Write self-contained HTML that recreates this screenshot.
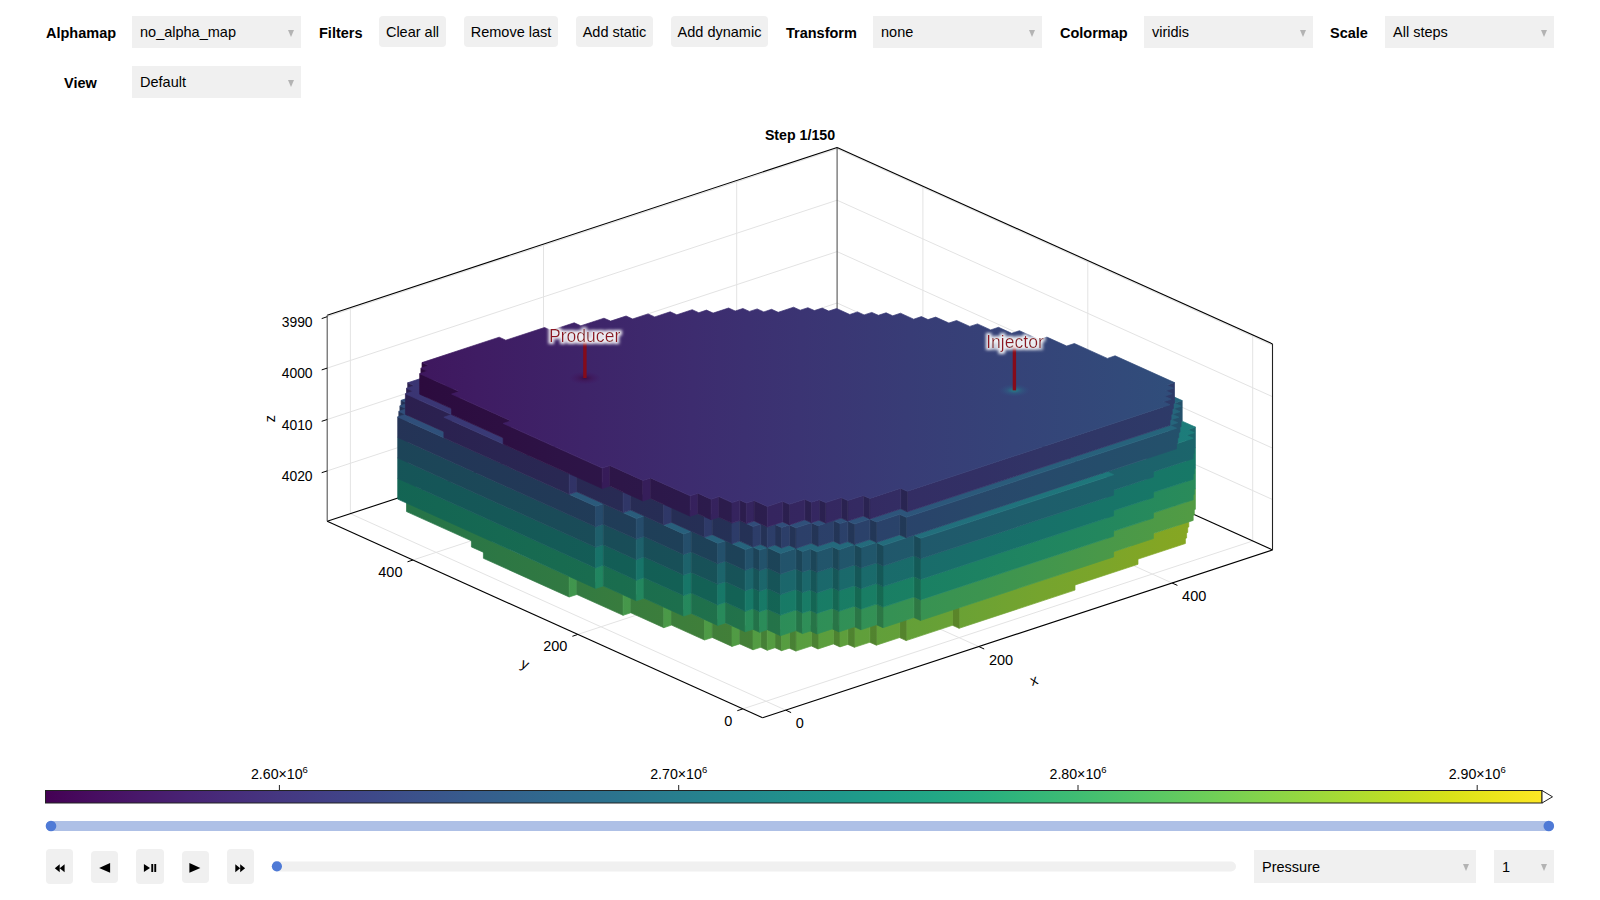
<!DOCTYPE html>
<html><head><meta charset="utf-8">
<style>
html,body{margin:0;padding:0;background:#fff;}
body{width:1600px;height:900px;position:relative;overflow:hidden;font-family:"Liberation Sans",sans-serif;color:#000;}
.lbl{position:absolute;font-weight:bold;font-size:14.5px;line-height:1;white-space:nowrap;}
.dd{position:absolute;background:#f0f0f0;height:32px;}
.dd span{position:absolute;left:8px;top:9px;font-size:14.5px;line-height:1;white-space:nowrap;}
.dd i{position:absolute;right:7px;top:13.6px;width:0;height:0;border-left:3.5px solid transparent;border-right:3.5px solid transparent;border-top:7.5px solid #b3b3b3;}
.btn{position:absolute;background:#f0f0f0;border-radius:4px;height:31px;top:16px;}
.btn span{position:absolute;left:0;right:0;text-align:center;top:9px;font-size:14.5px;line-height:1;white-space:nowrap;}
.pb{position:absolute;background:#f0f0f0;border-radius:4px;}
svg text{font-family:"Liberation Sans",sans-serif;}
</style></head><body>
<!-- row 1 -->
<div class="lbl" style="left:46px;top:26px">Alphamap</div>
<div class="dd" style="left:132px;top:16px;width:169px"><span>no_alpha_map</span><i></i></div>
<div class="lbl" style="left:319px;top:26px">Filters</div>
<div class="btn" style="left:379px;width:67px"><span>Clear all</span></div>
<div class="btn" style="left:464px;width:94px"><span>Remove last</span></div>
<div class="btn" style="left:576px;width:77px"><span>Add static</span></div>
<div class="btn" style="left:671px;width:97px"><span>Add dynamic</span></div>
<div class="lbl" style="left:786px;top:26px">Transform</div>
<div class="dd" style="left:873px;top:16px;width:169px"><span>none</span><i></i></div>
<div class="lbl" style="left:1060px;top:26px">Colormap</div>
<div class="dd" style="left:1144px;top:16px;width:169px"><span>viridis</span><i></i></div>
<div class="lbl" style="left:1330px;top:26px">Scale</div>
<div class="dd" style="left:1385px;top:16px;width:169px"><span>All steps</span><i></i></div>
<!-- row 2 -->
<div class="lbl" style="left:64px;top:76px">View</div>
<div class="dd" style="left:132px;top:66px;width:169px"><span>Default</span><i></i></div>

<svg width="1600" height="900" style="position:absolute;left:0;top:0">
<defs><linearGradient id="sx6" gradientUnits="userSpaceOnUse" x1="380" y1="0" x2="1220" y2="0"><stop offset="0%" stop-color="#23734a"/><stop offset="7.1%" stop-color="#287547"/><stop offset="14.3%" stop-color="#2d7744"/><stop offset="21.4%" stop-color="#317942"/><stop offset="28.6%" stop-color="#387c3e"/><stop offset="35.7%" stop-color="#3d7e3b"/><stop offset="42.9%" stop-color="#437f38"/><stop offset="50%" stop-color="#498134"/><stop offset="57.1%" stop-color="#50832f"/><stop offset="64.3%" stop-color="#56842c"/><stop offset="71.4%" stop-color="#5d8628"/><stop offset="78.6%" stop-color="#638723"/><stop offset="85.7%" stop-color="#6b891e"/><stop offset="92.9%" stop-color="#728a1a"/><stop offset="100%" stop-color="#798b16"/></linearGradient><linearGradient id="sy6" gradientUnits="userSpaceOnUse" x1="380" y1="0" x2="1220" y2="0"><stop offset="0%" stop-color="#2f8e57"/><stop offset="7.1%" stop-color="#359154"/><stop offset="14.3%" stop-color="#3b9351"/><stop offset="21.4%" stop-color="#3f954e"/><stop offset="28.6%" stop-color="#45974b"/><stop offset="35.7%" stop-color="#4c9a47"/><stop offset="42.9%" stop-color="#519b44"/><stop offset="50%" stop-color="#589d3f"/><stop offset="57.1%" stop-color="#609f3b"/><stop offset="64.3%" stop-color="#65a037"/><stop offset="71.4%" stop-color="#6da233"/><stop offset="78.6%" stop-color="#75a42e"/><stop offset="85.7%" stop-color="#7ba52a"/><stop offset="92.9%" stop-color="#83a624"/><stop offset="100%" stop-color="#89a721"/></linearGradient><linearGradient id="sx5" gradientUnits="userSpaceOnUse" x1="380" y1="0" x2="1220" y2="0"><stop offset="0%" stop-color="#136454"/><stop offset="7.1%" stop-color="#146653"/><stop offset="14.3%" stop-color="#166952"/><stop offset="21.4%" stop-color="#186b50"/><stop offset="28.6%" stop-color="#1a6d4e"/><stop offset="35.7%" stop-color="#1d6f4d"/><stop offset="42.9%" stop-color="#22724a"/><stop offset="50%" stop-color="#267448"/><stop offset="57.1%" stop-color="#2a7646"/><stop offset="64.3%" stop-color="#2f7843"/><stop offset="71.4%" stop-color="#357b40"/><stop offset="78.6%" stop-color="#3a7d3d"/><stop offset="85.7%" stop-color="#407f39"/><stop offset="92.9%" stop-color="#468036"/><stop offset="100%" stop-color="#4d8231"/></linearGradient><linearGradient id="sy5" gradientUnits="userSpaceOnUse" x1="380" y1="0" x2="1220" y2="0"><stop offset="0%" stop-color="#187c65"/><stop offset="7.1%" stop-color="#1a7f64"/><stop offset="14.3%" stop-color="#1c8162"/><stop offset="21.4%" stop-color="#1e8461"/><stop offset="28.6%" stop-color="#22865f"/><stop offset="35.7%" stop-color="#25885d"/><stop offset="42.9%" stop-color="#298b5a"/><stop offset="50%" stop-color="#2e8e58"/><stop offset="57.1%" stop-color="#329056"/><stop offset="64.3%" stop-color="#389252"/><stop offset="71.4%" stop-color="#3c9450"/><stop offset="78.6%" stop-color="#42964d"/><stop offset="85.7%" stop-color="#499849"/><stop offset="92.9%" stop-color="#4e9a46"/><stop offset="100%" stop-color="#559c42"/></linearGradient><linearGradient id="sx4" gradientUnits="userSpaceOnUse" x1="380" y1="0" x2="1220" y2="0"><stop offset="0%" stop-color="#165458"/><stop offset="7.1%" stop-color="#155658"/><stop offset="14.3%" stop-color="#155857"/><stop offset="21.4%" stop-color="#145b57"/><stop offset="28.6%" stop-color="#135e56"/><stop offset="35.7%" stop-color="#136055"/><stop offset="42.9%" stop-color="#136255"/><stop offset="50%" stop-color="#146554"/><stop offset="57.1%" stop-color="#156852"/><stop offset="64.3%" stop-color="#176a51"/><stop offset="71.4%" stop-color="#196c4f"/><stop offset="78.6%" stop-color="#1d6f4d"/><stop offset="85.7%" stop-color="#20714b"/><stop offset="92.9%" stop-color="#247349"/><stop offset="100%" stop-color="#287547"/></linearGradient><linearGradient id="sy4" gradientUnits="userSpaceOnUse" x1="380" y1="0" x2="1220" y2="0"><stop offset="0%" stop-color="#1a696b"/><stop offset="7.1%" stop-color="#196b6a"/><stop offset="14.3%" stop-color="#186e6a"/><stop offset="21.4%" stop-color="#187169"/><stop offset="28.6%" stop-color="#177369"/><stop offset="35.7%" stop-color="#177668"/><stop offset="42.9%" stop-color="#177867"/><stop offset="50%" stop-color="#187b66"/><stop offset="57.1%" stop-color="#197d64"/><stop offset="64.3%" stop-color="#1a8063"/><stop offset="71.4%" stop-color="#1d8262"/><stop offset="78.6%" stop-color="#208560"/><stop offset="85.7%" stop-color="#23875e"/><stop offset="92.9%" stop-color="#278a5c"/><stop offset="100%" stop-color="#2c8c59"/></linearGradient><linearGradient id="sx3" gradientUnits="userSpaceOnUse" x1="380" y1="0" x2="1220" y2="0"><stop offset="0%" stop-color="#1d4358"/><stop offset="7.1%" stop-color="#1c4658"/><stop offset="14.3%" stop-color="#1b4958"/><stop offset="21.4%" stop-color="#1a4b58"/><stop offset="28.6%" stop-color="#194d58"/><stop offset="35.7%" stop-color="#185058"/><stop offset="42.9%" stop-color="#175358"/><stop offset="50%" stop-color="#165558"/><stop offset="57.1%" stop-color="#155757"/><stop offset="64.3%" stop-color="#145a57"/><stop offset="71.4%" stop-color="#135d56"/><stop offset="78.6%" stop-color="#135f56"/><stop offset="85.7%" stop-color="#136155"/><stop offset="92.9%" stop-color="#136454"/><stop offset="100%" stop-color="#146653"/></linearGradient><linearGradient id="sy3" gradientUnits="userSpaceOnUse" x1="380" y1="0" x2="1220" y2="0"><stop offset="0%" stop-color="#22556b"/><stop offset="7.1%" stop-color="#21586b"/><stop offset="14.3%" stop-color="#205a6b"/><stop offset="21.4%" stop-color="#1f5d6b"/><stop offset="28.6%" stop-color="#1e606b"/><stop offset="35.7%" stop-color="#1d626b"/><stop offset="42.9%" stop-color="#1c656b"/><stop offset="50%" stop-color="#1b676b"/><stop offset="57.1%" stop-color="#1a6a6b"/><stop offset="64.3%" stop-color="#196c6a"/><stop offset="71.4%" stop-color="#186f6a"/><stop offset="78.6%" stop-color="#177169"/><stop offset="85.7%" stop-color="#177468"/><stop offset="92.9%" stop-color="#177767"/><stop offset="100%" stop-color="#177966"/></linearGradient><linearGradient id="sx2" gradientUnits="userSpaceOnUse" x1="380" y1="0" x2="1220" y2="0"><stop offset="0%" stop-color="#253256"/><stop offset="7.1%" stop-color="#233557"/><stop offset="14.3%" stop-color="#223857"/><stop offset="21.4%" stop-color="#213a57"/><stop offset="28.6%" stop-color="#203d58"/><stop offset="35.7%" stop-color="#1e4058"/><stop offset="42.9%" stop-color="#1d4258"/><stop offset="50%" stop-color="#1c4558"/><stop offset="57.1%" stop-color="#1b4858"/><stop offset="64.3%" stop-color="#1a4a58"/><stop offset="71.4%" stop-color="#194c58"/><stop offset="78.6%" stop-color="#184f58"/><stop offset="85.7%" stop-color="#175158"/><stop offset="92.9%" stop-color="#165458"/><stop offset="100%" stop-color="#155658"/></linearGradient><linearGradient id="sy2" gradientUnits="userSpaceOnUse" x1="380" y1="0" x2="1220" y2="0"><stop offset="0%" stop-color="#2b406a"/><stop offset="7.1%" stop-color="#2a436a"/><stop offset="14.3%" stop-color="#29466a"/><stop offset="21.4%" stop-color="#27496b"/><stop offset="28.6%" stop-color="#264b6b"/><stop offset="35.7%" stop-color="#254e6b"/><stop offset="42.9%" stop-color="#23516b"/><stop offset="50%" stop-color="#22546b"/><stop offset="57.1%" stop-color="#21566b"/><stop offset="64.3%" stop-color="#20596b"/><stop offset="71.4%" stop-color="#1f5b6b"/><stop offset="78.6%" stop-color="#1e5e6b"/><stop offset="85.7%" stop-color="#1d606b"/><stop offset="92.9%" stop-color="#1c636b"/><stop offset="100%" stop-color="#1b666b"/></linearGradient><linearGradient id="tg2" gradientUnits="userSpaceOnUse" x1="370.2" y1="410.5" x2="1229.5" y2="436.5"><stop offset="0%" stop-color="#314c7a"/><stop offset="12.5%" stop-color="#2d537b"/><stop offset="25%" stop-color="#2b597b"/><stop offset="37.5%" stop-color="#28607c"/><stop offset="50%" stop-color="#25667c"/><stop offset="62.5%" stop-color="#236d7c"/><stop offset="75%" stop-color="#20727c"/><stop offset="87.5%" stop-color="#1e797b"/><stop offset="100%" stop-color="#1c7f7a"/></linearGradient><linearGradient id="sx1" gradientUnits="userSpaceOnUse" x1="380" y1="0" x2="1220" y2="0"><stop offset="0%" stop-color="#2c1e4e"/><stop offset="7.1%" stop-color="#2b2150"/><stop offset="14.3%" stop-color="#2a2552"/><stop offset="21.4%" stop-color="#292853"/><stop offset="28.6%" stop-color="#282b54"/><stop offset="35.7%" stop-color="#262e55"/><stop offset="42.9%" stop-color="#253156"/><stop offset="50%" stop-color="#243456"/><stop offset="57.1%" stop-color="#233657"/><stop offset="64.3%" stop-color="#213a57"/><stop offset="71.4%" stop-color="#203c58"/><stop offset="78.6%" stop-color="#1f3f58"/><stop offset="85.7%" stop-color="#1e4158"/><stop offset="92.9%" stop-color="#1d4458"/><stop offset="100%" stop-color="#1c4658"/></linearGradient><linearGradient id="sy1" gradientUnits="userSpaceOnUse" x1="380" y1="0" x2="1220" y2="0"><stop offset="0%" stop-color="#342861"/><stop offset="7.1%" stop-color="#332c63"/><stop offset="14.3%" stop-color="#323065"/><stop offset="21.4%" stop-color="#313266"/><stop offset="28.6%" stop-color="#303667"/><stop offset="35.7%" stop-color="#2f3868"/><stop offset="42.9%" stop-color="#2d3c69"/><stop offset="50%" stop-color="#2c3f69"/><stop offset="57.1%" stop-color="#2b416a"/><stop offset="64.3%" stop-color="#29446a"/><stop offset="71.4%" stop-color="#28486a"/><stop offset="78.6%" stop-color="#274a6b"/><stop offset="85.7%" stop-color="#254d6b"/><stop offset="92.9%" stop-color="#24506b"/><stop offset="100%" stop-color="#23526b"/></linearGradient><linearGradient id="tg1" gradientUnits="userSpaceOnUse" x1="370.2" y1="390" x2="1229.5" y2="416"><stop offset="0%" stop-color="#3b3272"/><stop offset="12.5%" stop-color="#393975"/><stop offset="25%" stop-color="#364177"/><stop offset="37.5%" stop-color="#334879"/><stop offset="50%" stop-color="#304f7a"/><stop offset="62.5%" stop-color="#2d557b"/><stop offset="75%" stop-color="#2a5c7b"/><stop offset="87.5%" stop-color="#27627c"/><stop offset="100%" stop-color="#24697c"/></linearGradient><linearGradient id="sx0" gradientUnits="userSpaceOnUse" x1="380" y1="0" x2="1220" y2="0"><stop offset="0%" stop-color="#2c083b"/><stop offset="7.1%" stop-color="#2c0c3f"/><stop offset="14.3%" stop-color="#2d0f42"/><stop offset="21.4%" stop-color="#2d1346"/><stop offset="28.6%" stop-color="#2d1648"/><stop offset="35.7%" stop-color="#2c194b"/><stop offset="42.9%" stop-color="#2c1d4d"/><stop offset="50%" stop-color="#2b204f"/><stop offset="57.1%" stop-color="#2a2351"/><stop offset="64.3%" stop-color="#292652"/><stop offset="71.4%" stop-color="#282954"/><stop offset="78.6%" stop-color="#272d55"/><stop offset="85.7%" stop-color="#263056"/><stop offset="92.9%" stop-color="#253256"/><stop offset="100%" stop-color="#233657"/></linearGradient><linearGradient id="sy0" gradientUnits="userSpaceOnUse" x1="380" y1="0" x2="1220" y2="0"><stop offset="0%" stop-color="#360e4c"/><stop offset="7.1%" stop-color="#36114f"/><stop offset="14.3%" stop-color="#371553"/><stop offset="21.4%" stop-color="#361956"/><stop offset="28.6%" stop-color="#361c59"/><stop offset="35.7%" stop-color="#36205c"/><stop offset="42.9%" stop-color="#35245e"/><stop offset="50%" stop-color="#352660"/><stop offset="57.1%" stop-color="#342a62"/><stop offset="64.3%" stop-color="#332e64"/><stop offset="71.4%" stop-color="#323065"/><stop offset="78.6%" stop-color="#313466"/><stop offset="85.7%" stop-color="#2f3767"/><stop offset="92.9%" stop-color="#2e3a68"/><stop offset="100%" stop-color="#2d3d69"/></linearGradient><linearGradient id="tg0" gradientUnits="userSpaceOnUse" x1="370.2" y1="369.4" x2="1229.5" y2="395.4"><stop offset="0%" stop-color="#3e135a"/><stop offset="12.5%" stop-color="#3f1c63"/><stop offset="25%" stop-color="#3e2469"/><stop offset="37.5%" stop-color="#3d2c6f"/><stop offset="50%" stop-color="#3b3473"/><stop offset="62.5%" stop-color="#383c76"/><stop offset="75%" stop-color="#354378"/><stop offset="87.5%" stop-color="#324a7a"/><stop offset="100%" stop-color="#2e527b"/></linearGradient><filter id="glow" x="-30%" y="-60%" width="160%" height="220%"><feMorphology in="SourceAlpha" operator="dilate" radius="1.6" result="d"/><feGaussianBlur in="d" stdDeviation="1.6" result="b"/><feFlood flood-color="#ffffff" flood-opacity="0.92"/><feComposite in2="b" operator="in" result="g"/><feMerge><feMergeNode in="g"/><feMergeNode in="SourceGraphic"/></feMerge></filter><radialGradient id="spotP"><stop offset="0%" stop-color="#3a0a3e" stop-opacity="0.9"/><stop offset="45%" stop-color="#401050" stop-opacity="0.45"/><stop offset="100%" stop-color="#441060" stop-opacity="0"/></radialGradient><radialGradient id="spotI"><stop offset="0%" stop-color="#1f8a8a" stop-opacity="0.9"/><stop offset="45%" stop-color="#2a6f88" stop-opacity="0.4"/><stop offset="100%" stop-color="#30508a" stop-opacity="0"/></radialGradient></defs>
<line x1="350.4" y1="513.7" x2="350.4" y2="307.7" stroke="#e3e3e3" stroke-width="1"/>
<line x1="785.8" y1="710.2" x2="350.4" y2="513.7" stroke="#e3e3e3" stroke-width="1"/>
<line x1="543.5" y1="450.1" x2="543.5" y2="244.1" stroke="#e3e3e3" stroke-width="1"/>
<line x1="978.9" y1="646.6" x2="543.5" y2="450.1" stroke="#e3e3e3" stroke-width="1"/>
<line x1="736.7" y1="386.5" x2="736.7" y2="180.5" stroke="#e3e3e3" stroke-width="1"/>
<line x1="1172.1" y1="583" x2="736.7" y2="386.5" stroke="#e3e3e3" stroke-width="1"/>
<line x1="1252.7" y1="541" x2="1252.7" y2="335" stroke="#e3e3e3" stroke-width="1"/>
<line x1="742.8" y1="708.9" x2="1252.7" y2="541" stroke="#e3e3e3" stroke-width="1"/>
<line x1="1087.8" y1="466.5" x2="1087.8" y2="260.5" stroke="#e3e3e3" stroke-width="1"/>
<line x1="577.9" y1="634.4" x2="1087.8" y2="466.5" stroke="#e3e3e3" stroke-width="1"/>
<line x1="922.9" y1="392.1" x2="922.9" y2="186.1" stroke="#e3e3e3" stroke-width="1"/>
<line x1="413" y1="560" x2="922.9" y2="392.1" stroke="#e3e3e3" stroke-width="1"/>
<line x1="327.2" y1="316.7" x2="837.1" y2="148.8" stroke="#e3e3e3" stroke-width="1"/>
<line x1="1272.5" y1="345.3" x2="837.1" y2="148.8" stroke="#e3e3e3" stroke-width="1"/>
<line x1="327.2" y1="368.1" x2="837.1" y2="200.2" stroke="#e3e3e3" stroke-width="1"/>
<line x1="1272.5" y1="396.7" x2="837.1" y2="200.2" stroke="#e3e3e3" stroke-width="1"/>
<line x1="327.2" y1="419.5" x2="837.1" y2="251.6" stroke="#e3e3e3" stroke-width="1"/>
<line x1="1272.5" y1="448.1" x2="837.1" y2="251.6" stroke="#e3e3e3" stroke-width="1"/>
<line x1="327.2" y1="470.9" x2="837.1" y2="303" stroke="#e3e3e3" stroke-width="1"/>
<line x1="1272.5" y1="499.5" x2="837.1" y2="303" stroke="#e3e3e3" stroke-width="1"/>
<line x1="327.2" y1="521.3" x2="837.1" y2="353.4" stroke="#000" stroke-width="1.1"/>
<line x1="837.1" y1="353.4" x2="1272.5" y2="549.9" stroke="#000" stroke-width="1.1"/>
<line x1="837.1" y1="353.4" x2="837.1" y2="147.4" stroke="#555" stroke-width="1.1"/>
<line x1="327.2" y1="315.3" x2="837.1" y2="147.4" stroke="#000" stroke-width="1.1"/>
<line x1="837.1" y1="147.4" x2="1272.5" y2="343.9" stroke="#000" stroke-width="1.1"/>
<line x1="327.2" y1="521.3" x2="327.2" y2="315.3" stroke="#555" stroke-width="1.1"/>
<line x1="1272.5" y1="549.9" x2="1272.5" y2="343.9" stroke="#222" stroke-width="1.1"/>
<line x1="762.6" y1="717.8" x2="327.2" y2="521.3" stroke="#000" stroke-width="1.1"/>
<line x1="762.6" y1="717.8" x2="1272.5" y2="549.9" stroke="#000" stroke-width="1.1"/>
<g><polygon points="415.4,483 408.8,480 408.8,500.5 415.4,503.5" fill="url(#sx6)" stroke="url(#sx6)" stroke-width="0.7"/>
<polygon points="1181.1,508.9 1188.8,506.4 1188.8,526.9 1181.1,529.5" fill="url(#sy6)" stroke="url(#sy6)" stroke-width="0.7"/>
<polygon points="414.3,488.5 407.7,485.5 407.7,506.1 414.3,509" fill="url(#sx6)" stroke="url(#sx6)" stroke-width="0.7"/>
<polygon points="1180,514.4 1187.7,511.9 1187.7,532.4 1180,535" fill="url(#sy6)" stroke="url(#sy6)" stroke-width="0.7"/>
<polygon points="1178.8,519.9 1186.6,517.4 1186.6,538 1178.8,540.5" fill="url(#sy6)" stroke="url(#sy6)" stroke-width="0.7"/>
<polygon points="479.1,523.8 406.5,491 406.5,511.6 479.1,544.3" fill="url(#sx6)" stroke="url(#sx6)" stroke-width="0.7"/>
<polygon points="1131.4,540.7 1185.4,522.9 1185.4,543.5 1131.4,561.3" fill="url(#sy6)" stroke="url(#sy6)" stroke-width="0.7"/>
<polygon points="491.2,535.3 471.4,526.3 471.4,546.9 491.2,555.8" fill="url(#sx6)" stroke="url(#sx6)" stroke-width="0.7"/>
<polygon points="1068.4,566.6 1138,543.7 1138,564.3 1068.4,587.2" fill="url(#sy6)" stroke="url(#sy6)" stroke-width="0.7"/>
<polygon points="569.2,576.5 483.4,537.8 483.4,558.3 569.2,597" fill="url(#sx6)" stroke="url(#sx6)" stroke-width="0.7"/>
<polygon points="959.1,607.7 1075,569.6 1075,590.1 959.1,628.3" fill="url(#sy6)" stroke="url(#sy6)" stroke-width="0.7"/>
<polygon points="569.2,576.5 576.9,574 576.9,594.5 569.2,597" fill="url(#sy6)" stroke="url(#sy6)" stroke-width="0.7"/>
<polygon points="623.1,594.8 576.9,574 576.9,594.5 623.1,615.3" fill="url(#sx6)" stroke="url(#sx6)" stroke-width="0.7"/>
<polygon points="623.1,594.8 630.8,592.3 630.8,612.8 623.1,615.3" fill="url(#sy6)" stroke="url(#sy6)" stroke-width="0.7"/>
<polygon points="959.1,607.7 952.5,604.8 952.5,625.3 959.1,628.3" fill="url(#sx6)" stroke="url(#sx6)" stroke-width="0.7"/>
<polygon points="663.8,607.1 630.8,592.3 630.8,612.8 663.8,627.7" fill="url(#sx6)" stroke="url(#sx6)" stroke-width="0.7"/>
<polygon points="906.2,620 952.5,604.8 952.5,625.3 906.2,640.6" fill="url(#sy6)" stroke="url(#sy6)" stroke-width="0.7"/>
<polygon points="663.8,607.1 671.5,604.6 671.5,625.1 663.8,627.7" fill="url(#sy6)" stroke="url(#sy6)" stroke-width="0.7"/>
<polygon points="704.5,619.5 671.5,604.6 671.5,625.1 704.5,640" fill="url(#sx6)" stroke="url(#sx6)" stroke-width="0.7"/>
<polygon points="906.2,620 899.6,617 899.6,637.6 906.2,640.6" fill="url(#sx6)" stroke="url(#sx6)" stroke-width="0.7"/>
<polygon points="876.4,624.7 899.6,617 899.6,637.6 876.4,645.2" fill="url(#sy6)" stroke="url(#sy6)" stroke-width="0.7"/>
<polygon points="876.4,624.7 869.8,621.7 869.8,642.3 876.4,645.2" fill="url(#sx6)" stroke="url(#sx6)" stroke-width="0.7"/>
<polygon points="704.5,619.5 712.3,616.9 712.3,637.5 704.5,640" fill="url(#sy6)" stroke="url(#sy6)" stroke-width="0.7"/>
<polygon points="854.4,626.8 869.8,621.7 869.8,642.3 854.4,647.3" fill="url(#sy6)" stroke="url(#sy6)" stroke-width="0.7"/>
<polygon points="732,625.9 712.3,616.9 712.3,637.5 732,646.4" fill="url(#sx6)" stroke="url(#sx6)" stroke-width="0.7"/>
<polygon points="840,626.4 833.4,623.4 833.4,643.9 840,646.9" fill="url(#sx6)" stroke="url(#sx6)" stroke-width="0.7"/>
<polygon points="854.4,626.8 847.8,623.8 847.8,644.4 854.4,647.3" fill="url(#sx6)" stroke="url(#sx6)" stroke-width="0.7"/>
<polygon points="840,626.4 847.8,623.8 847.8,644.4 840,646.9" fill="url(#sy6)" stroke="url(#sy6)" stroke-width="0.7"/>
<polygon points="818,628.5 833.4,623.4 833.4,643.9 818,649" fill="url(#sy6)" stroke="url(#sy6)" stroke-width="0.7"/>
<polygon points="818,628.5 811.4,625.5 811.4,646 818,649" fill="url(#sx6)" stroke="url(#sx6)" stroke-width="0.7"/>
<polygon points="732,625.9 739.8,623.3 739.8,643.9 732,646.4" fill="url(#sy6)" stroke="url(#sy6)" stroke-width="0.7"/>
<polygon points="753,629.3 739.8,623.3 739.8,643.9 753,649.8" fill="url(#sx6)" stroke="url(#sx6)" stroke-width="0.7"/>
<polygon points="795.9,630.6 811.4,625.5 811.4,646 795.9,651.1" fill="url(#sy6)" stroke="url(#sy6)" stroke-width="0.7"/>
<polygon points="767.3,629.7 760.7,626.7 760.7,647.3 767.3,650.3" fill="url(#sx6)" stroke="url(#sx6)" stroke-width="0.7"/>
<polygon points="781.6,630.1 775,627.2 775,647.7 781.6,650.7" fill="url(#sx6)" stroke="url(#sx6)" stroke-width="0.7"/>
<polygon points="795.9,630.6 789.3,627.6 789.3,648.2 795.9,651.1" fill="url(#sx6)" stroke="url(#sx6)" stroke-width="0.7"/>
<polygon points="781.6,630.1 789.3,627.6 789.3,648.2 781.6,650.7" fill="url(#sy6)" stroke="url(#sy6)" stroke-width="0.7"/>
<polygon points="767.3,629.7 775,627.2 775,647.7 767.3,650.3" fill="url(#sy6)" stroke="url(#sy6)" stroke-width="0.7"/>
<polygon points="753,629.3 760.7,626.7 760.7,647.3 753,649.8" fill="url(#sy6)" stroke="url(#sy6)" stroke-width="0.7"/>
<polygon points="407.7,465 401.1,462 401.1,482.5 407.7,485.5" fill="url(#sx5)" stroke="url(#sx5)" stroke-width="0.7"/>
<polygon points="1187.7,491.3 1195.4,488.8 1195.4,509.3 1187.7,511.9" fill="url(#sy5)" stroke="url(#sy5)" stroke-width="0.7"/>
<polygon points="406.5,470.5 399.9,467.5 399.9,488 406.5,491" fill="url(#sx5)" stroke="url(#sx5)" stroke-width="0.7"/>
<polygon points="1186.6,496.9 1194.3,494.3 1194.3,514.9 1186.6,517.4" fill="url(#sy5)" stroke="url(#sy5)" stroke-width="0.7"/>
<polygon points="405.4,476 398.8,473 398.8,493.6 405.4,496.5" fill="url(#sx5)" stroke="url(#sx5)" stroke-width="0.7"/>
<polygon points="1146.8,515.1 1193.2,499.8 1193.2,520.4 1146.8,535.6" fill="url(#sy5)" stroke="url(#sy5)" stroke-width="0.7"/>
<polygon points="1107,533.3 1153.4,518.1 1153.4,538.6 1107,553.9" fill="url(#sy5)" stroke="url(#sy5)" stroke-width="0.7"/>
<polygon points="595.6,567.9 397.7,478.5 397.7,499.1 595.6,588.4" fill="url(#sx5)" stroke="url(#sx5)" stroke-width="0.7"/>
<polygon points="920.5,599.9 1113.6,536.3 1113.6,556.9 920.5,620.5" fill="url(#sy5)" stroke="url(#sy5)" stroke-width="0.7"/>
<polygon points="595.6,567.9 603.3,565.3 603.3,585.9 595.6,588.4" fill="url(#sy5)" stroke="url(#sy5)" stroke-width="0.7"/>
<polygon points="636.3,580.2 603.3,565.3 603.3,585.9 636.3,600.8" fill="url(#sx5)" stroke="url(#sx5)" stroke-width="0.7"/>
<polygon points="636.3,580.2 644,577.7 644,598.2 636.3,600.8" fill="url(#sy5)" stroke="url(#sy5)" stroke-width="0.7"/>
<polygon points="683.6,595.5 644,577.7 644,598.2 683.6,616.1" fill="url(#sx5)" stroke="url(#sx5)" stroke-width="0.7"/>
<polygon points="920.5,599.9 913.9,596.9 913.9,617.5 920.5,620.5" fill="url(#sx5)" stroke="url(#sx5)" stroke-width="0.7"/>
<polygon points="683.6,595.5 691.3,593 691.3,613.5 683.6,616.1" fill="url(#sy5)" stroke="url(#sy5)" stroke-width="0.7"/>
<polygon points="883,607.1 913.9,596.9 913.9,617.5 883,627.7" fill="url(#sy5)" stroke="url(#sy5)" stroke-width="0.7"/>
<polygon points="717.7,604.9 691.3,593 691.3,613.5 717.7,625.4" fill="url(#sx5)" stroke="url(#sx5)" stroke-width="0.7"/>
<polygon points="883,607.1 876.4,604.1 876.4,624.7 883,627.7" fill="url(#sx5)" stroke="url(#sx5)" stroke-width="0.7"/>
<polygon points="861,609.2 876.4,604.1 876.4,624.7 861,629.8" fill="url(#sy5)" stroke="url(#sy5)" stroke-width="0.7"/>
<polygon points="861,609.2 854.4,606.2 854.4,626.8 861,629.8" fill="url(#sx5)" stroke="url(#sx5)" stroke-width="0.7"/>
<polygon points="717.7,604.9 725.5,602.3 725.5,622.9 717.7,625.4" fill="url(#sy5)" stroke="url(#sy5)" stroke-width="0.7"/>
<polygon points="838.9,611.3 854.4,606.2 854.4,626.8 838.9,631.9" fill="url(#sy5)" stroke="url(#sy5)" stroke-width="0.7"/>
<polygon points="745.2,611.3 725.5,602.3 725.5,622.9 745.2,631.8" fill="url(#sx5)" stroke="url(#sx5)" stroke-width="0.7"/>
<polygon points="838.9,611.3 832.3,608.4 832.3,628.9 838.9,631.9" fill="url(#sx5)" stroke="url(#sx5)" stroke-width="0.7"/>
<polygon points="816.9,613.4 832.3,608.4 832.3,628.9 816.9,634" fill="url(#sy5)" stroke="url(#sy5)" stroke-width="0.7"/>
<polygon points="759.6,611.7 753,608.7 753,629.3 759.6,632.3" fill="url(#sx5)" stroke="url(#sx5)" stroke-width="0.7"/>
<polygon points="802.5,613 795.9,610 795.9,630.6 802.5,633.6" fill="url(#sx5)" stroke="url(#sx5)" stroke-width="0.7"/>
<polygon points="816.9,613.4 810.3,610.5 810.3,631 816.9,634" fill="url(#sx5)" stroke="url(#sx5)" stroke-width="0.7"/>
<polygon points="802.5,613 810.3,610.5 810.3,631 802.5,633.6" fill="url(#sy5)" stroke="url(#sy5)" stroke-width="0.7"/>
<polygon points="759.6,611.7 767.3,609.2 767.3,629.7 759.6,632.3" fill="url(#sy5)" stroke="url(#sy5)" stroke-width="0.7"/>
<polygon points="745.2,611.3 753,608.7 753,629.3 745.2,631.8" fill="url(#sy5)" stroke="url(#sy5)" stroke-width="0.7"/>
<polygon points="780.5,615.1 767.3,609.2 767.3,629.7 780.5,635.7" fill="url(#sx5)" stroke="url(#sx5)" stroke-width="0.7"/>
<polygon points="780.5,615.1 795.9,610 795.9,630.6 780.5,635.7" fill="url(#sy5)" stroke="url(#sy5)" stroke-width="0.7"/>
<polygon points="407.7,444.4 401.1,441.4 401.1,462 407.7,465" fill="url(#sx4)" stroke="url(#sx4)" stroke-width="0.7"/>
<polygon points="1187.7,470.8 1195.4,468.2 1195.4,488.8 1187.7,491.3" fill="url(#sy4)" stroke="url(#sy4)" stroke-width="0.7"/>
<polygon points="406.5,449.9 399.9,446.9 399.9,467.5 406.5,470.5" fill="url(#sx4)" stroke="url(#sx4)" stroke-width="0.7"/>
<polygon points="1186.6,476.3 1194.3,473.8 1194.3,494.3 1186.6,496.9" fill="url(#sy4)" stroke="url(#sy4)" stroke-width="0.7"/>
<polygon points="405.4,455.4 398.8,452.5 398.8,473 405.4,476" fill="url(#sx4)" stroke="url(#sx4)" stroke-width="0.7"/>
<polygon points="1146.8,494.5 1193.2,479.3 1193.2,499.8 1146.8,515.1" fill="url(#sy4)" stroke="url(#sy4)" stroke-width="0.7"/>
<polygon points="1107,512.8 1153.4,497.5 1153.4,518.1 1107,533.3" fill="url(#sy4)" stroke="url(#sy4)" stroke-width="0.7"/>
<polygon points="595.6,547.3 397.7,458 397.7,478.5 595.6,567.9" fill="url(#sx4)" stroke="url(#sx4)" stroke-width="0.7"/>
<polygon points="920.5,579.4 1113.6,515.8 1113.6,536.3 920.5,599.9" fill="url(#sy4)" stroke="url(#sy4)" stroke-width="0.7"/>
<polygon points="595.6,547.3 603.3,544.8 603.3,565.3 595.6,567.9" fill="url(#sy4)" stroke="url(#sy4)" stroke-width="0.7"/>
<polygon points="636.3,559.7 603.3,544.8 603.3,565.3 636.3,580.2" fill="url(#sx4)" stroke="url(#sx4)" stroke-width="0.7"/>
<polygon points="636.3,559.7 644,557.1 644,577.7 636.3,580.2" fill="url(#sy4)" stroke="url(#sy4)" stroke-width="0.7"/>
<polygon points="683.6,575 644,557.1 644,577.7 683.6,595.5" fill="url(#sx4)" stroke="url(#sx4)" stroke-width="0.7"/>
<polygon points="920.5,579.4 913.9,576.4 913.9,596.9 920.5,599.9" fill="url(#sx4)" stroke="url(#sx4)" stroke-width="0.7"/>
<polygon points="683.6,575 691.3,572.4 691.3,593 683.6,595.5" fill="url(#sy4)" stroke="url(#sy4)" stroke-width="0.7"/>
<polygon points="883,586.6 913.9,576.4 913.9,596.9 883,607.1" fill="url(#sy4)" stroke="url(#sy4)" stroke-width="0.7"/>
<polygon points="717.7,584.3 691.3,572.4 691.3,593 717.7,604.9" fill="url(#sx4)" stroke="url(#sx4)" stroke-width="0.7"/>
<polygon points="883,586.6 876.4,583.6 876.4,604.1 883,607.1" fill="url(#sx4)" stroke="url(#sx4)" stroke-width="0.7"/>
<polygon points="861,588.7 876.4,583.6 876.4,604.1 861,609.2" fill="url(#sy4)" stroke="url(#sy4)" stroke-width="0.7"/>
<polygon points="861,588.7 854.4,585.7 854.4,606.2 861,609.2" fill="url(#sx4)" stroke="url(#sx4)" stroke-width="0.7"/>
<polygon points="717.7,584.3 725.5,581.8 725.5,602.3 717.7,604.9" fill="url(#sy4)" stroke="url(#sy4)" stroke-width="0.7"/>
<polygon points="838.9,590.8 854.4,585.7 854.4,606.2 838.9,611.3" fill="url(#sy4)" stroke="url(#sy4)" stroke-width="0.7"/>
<polygon points="745.2,590.7 725.5,581.8 725.5,602.3 745.2,611.3" fill="url(#sx4)" stroke="url(#sx4)" stroke-width="0.7"/>
<polygon points="838.9,590.8 832.3,587.8 832.3,608.4 838.9,611.3" fill="url(#sx4)" stroke="url(#sx4)" stroke-width="0.7"/>
<polygon points="816.9,592.9 832.3,587.8 832.3,608.4 816.9,613.4" fill="url(#sy4)" stroke="url(#sy4)" stroke-width="0.7"/>
<polygon points="759.6,591.2 753,588.2 753,608.7 759.6,611.7" fill="url(#sx4)" stroke="url(#sx4)" stroke-width="0.7"/>
<polygon points="802.5,592.5 795.9,589.5 795.9,610 802.5,613" fill="url(#sx4)" stroke="url(#sx4)" stroke-width="0.7"/>
<polygon points="816.9,592.9 810.3,589.9 810.3,610.5 816.9,613.4" fill="url(#sx4)" stroke="url(#sx4)" stroke-width="0.7"/>
<polygon points="802.5,592.5 810.3,589.9 810.3,610.5 802.5,613" fill="url(#sy4)" stroke="url(#sy4)" stroke-width="0.7"/>
<polygon points="759.6,591.2 767.3,588.6 767.3,609.2 759.6,611.7" fill="url(#sy4)" stroke="url(#sy4)" stroke-width="0.7"/>
<polygon points="745.2,590.7 753,588.2 753,608.7 745.2,611.3" fill="url(#sy4)" stroke="url(#sy4)" stroke-width="0.7"/>
<polygon points="780.5,594.6 767.3,588.6 767.3,609.2 780.5,615.1" fill="url(#sx4)" stroke="url(#sx4)" stroke-width="0.7"/>
<polygon points="780.5,594.6 795.9,589.5 795.9,610 780.5,615.1" fill="url(#sy4)" stroke="url(#sy4)" stroke-width="0.7"/>
<polygon points="407.7,423.9 401.1,420.9 401.1,441.4 407.7,444.4" fill="url(#sx3)" stroke="url(#sx3)" stroke-width="0.7"/>
<polygon points="1187.7,450.2 1195.4,447.7 1195.4,468.2 1187.7,470.8" fill="url(#sy3)" stroke="url(#sy3)" stroke-width="0.7"/>
<polygon points="406.5,429.4 399.9,426.4 399.9,446.9 406.5,449.9" fill="url(#sx3)" stroke="url(#sx3)" stroke-width="0.7"/>
<polygon points="1186.6,455.8 1194.3,453.2 1194.3,473.8 1186.6,476.3" fill="url(#sy3)" stroke="url(#sy3)" stroke-width="0.7"/>
<polygon points="405.4,434.9 398.8,431.9 398.8,452.5 405.4,455.4" fill="url(#sx3)" stroke="url(#sx3)" stroke-width="0.7"/>
<polygon points="1146.8,474 1193.2,458.7 1193.2,479.3 1146.8,494.5" fill="url(#sy3)" stroke="url(#sy3)" stroke-width="0.7"/>
<polygon points="1107,492.2 1153.4,477 1153.4,497.5 1107,512.8" fill="url(#sy3)" stroke="url(#sy3)" stroke-width="0.7"/>
<polygon points="595.6,526.8 397.7,437.4 397.7,458 595.6,547.3" fill="url(#sx3)" stroke="url(#sx3)" stroke-width="0.7"/>
<polygon points="920.5,558.8 1113.6,495.2 1113.6,515.8 920.5,579.4" fill="url(#sy3)" stroke="url(#sy3)" stroke-width="0.7"/>
<polygon points="595.6,526.8 603.3,524.2 603.3,544.8 595.6,547.3" fill="url(#sy3)" stroke="url(#sy3)" stroke-width="0.7"/>
<polygon points="636.3,539.1 603.3,524.2 603.3,544.8 636.3,559.7" fill="url(#sx3)" stroke="url(#sx3)" stroke-width="0.7"/>
<polygon points="636.3,539.1 644,536.6 644,557.1 636.3,559.7" fill="url(#sy3)" stroke="url(#sy3)" stroke-width="0.7"/>
<polygon points="683.6,554.4 644,536.6 644,557.1 683.6,575" fill="url(#sx3)" stroke="url(#sx3)" stroke-width="0.7"/>
<polygon points="920.5,558.8 913.9,555.8 913.9,576.4 920.5,579.4" fill="url(#sx3)" stroke="url(#sx3)" stroke-width="0.7"/>
<polygon points="683.6,554.4 691.3,551.9 691.3,572.4 683.6,575" fill="url(#sy3)" stroke="url(#sy3)" stroke-width="0.7"/>
<polygon points="883,566 913.9,555.8 913.9,576.4 883,586.6" fill="url(#sy3)" stroke="url(#sy3)" stroke-width="0.7"/>
<polygon points="717.7,563.8 691.3,551.9 691.3,572.4 717.7,584.3" fill="url(#sx3)" stroke="url(#sx3)" stroke-width="0.7"/>
<polygon points="883,566 876.4,563 876.4,583.6 883,586.6" fill="url(#sx3)" stroke="url(#sx3)" stroke-width="0.7"/>
<polygon points="861,568.1 876.4,563 876.4,583.6 861,588.7" fill="url(#sy3)" stroke="url(#sy3)" stroke-width="0.7"/>
<polygon points="861,568.1 854.4,565.1 854.4,585.7 861,588.7" fill="url(#sx3)" stroke="url(#sx3)" stroke-width="0.7"/>
<polygon points="717.7,563.8 725.5,561.2 725.5,581.8 717.7,584.3" fill="url(#sy3)" stroke="url(#sy3)" stroke-width="0.7"/>
<polygon points="838.9,570.2 854.4,565.1 854.4,585.7 838.9,590.8" fill="url(#sy3)" stroke="url(#sy3)" stroke-width="0.7"/>
<polygon points="745.2,570.2 725.5,561.2 725.5,581.8 745.2,590.7" fill="url(#sx3)" stroke="url(#sx3)" stroke-width="0.7"/>
<polygon points="838.9,570.2 832.3,567.3 832.3,587.8 838.9,590.8" fill="url(#sx3)" stroke="url(#sx3)" stroke-width="0.7"/>
<polygon points="816.9,572.3 832.3,567.3 832.3,587.8 816.9,592.9" fill="url(#sy3)" stroke="url(#sy3)" stroke-width="0.7"/>
<polygon points="759.6,570.6 753,567.6 753,588.2 759.6,591.2" fill="url(#sx3)" stroke="url(#sx3)" stroke-width="0.7"/>
<polygon points="802.5,571.9 795.9,568.9 795.9,589.5 802.5,592.5" fill="url(#sx3)" stroke="url(#sx3)" stroke-width="0.7"/>
<polygon points="816.9,572.3 810.3,569.4 810.3,589.9 816.9,592.9" fill="url(#sx3)" stroke="url(#sx3)" stroke-width="0.7"/>
<polygon points="802.5,571.9 810.3,569.4 810.3,589.9 802.5,592.5" fill="url(#sy3)" stroke="url(#sy3)" stroke-width="0.7"/>
<polygon points="759.6,570.6 767.3,568.1 767.3,588.6 759.6,591.2" fill="url(#sy3)" stroke="url(#sy3)" stroke-width="0.7"/>
<polygon points="745.2,570.2 753,567.6 753,588.2 745.2,590.7" fill="url(#sy3)" stroke="url(#sy3)" stroke-width="0.7"/>
<polygon points="780.5,574 767.3,568.1 767.3,588.6 780.5,594.6" fill="url(#sx3)" stroke="url(#sx3)" stroke-width="0.7"/>
<polygon points="780.5,574 795.9,568.9 795.9,589.5 780.5,594.6" fill="url(#sy3)" stroke="url(#sy3)" stroke-width="0.7"/>
<polygon points="407.7,403.3 401.1,400.3 401.1,420.9 407.7,423.9" fill="url(#sx2)" stroke="url(#sx2)" stroke-width="0.7"/>
<polygon points="1187.7,429.7 1195.4,427.1 1195.4,447.7 1187.7,450.2" fill="url(#sy2)" stroke="url(#sy2)" stroke-width="0.7"/>
<polygon points="406.5,408.8 399.9,405.9 399.9,426.4 406.5,429.4" fill="url(#sx2)" stroke="url(#sx2)" stroke-width="0.7"/>
<polygon points="1186.6,435.2 1194.3,432.7 1194.3,453.2 1186.6,455.8" fill="url(#sy2)" stroke="url(#sy2)" stroke-width="0.7"/>
<polygon points="405.4,414.4 398.8,411.4 398.8,431.9 405.4,434.9" fill="url(#sx2)" stroke="url(#sx2)" stroke-width="0.7"/>
<polygon points="1146.8,453.4 1193.2,438.2 1193.2,458.7 1146.8,474" fill="url(#sy2)" stroke="url(#sy2)" stroke-width="0.7"/>
<polygon points="1107,471.7 1153.4,456.4 1153.4,477 1107,492.2" fill="url(#sy2)" stroke="url(#sy2)" stroke-width="0.7"/>
<polygon points="595.6,506.2 397.7,416.9 397.7,437.4 595.6,526.8" fill="url(#sx2)" stroke="url(#sx2)" stroke-width="0.7"/>
<polygon points="920.5,538.3 1113.6,474.7 1113.6,495.2 920.5,558.8" fill="url(#sy2)" stroke="url(#sy2)" stroke-width="0.7"/>
<polygon points="595.6,506.2 603.3,503.7 603.3,524.2 595.6,526.8" fill="url(#sy2)" stroke="url(#sy2)" stroke-width="0.7"/>
<polygon points="636.3,518.6 603.3,503.7 603.3,524.2 636.3,539.1" fill="url(#sx2)" stroke="url(#sx2)" stroke-width="0.7"/>
<polygon points="636.3,518.6 644,516 644,536.6 636.3,539.1" fill="url(#sy2)" stroke="url(#sy2)" stroke-width="0.7"/>
<polygon points="683.6,533.9 644,516 644,536.6 683.6,554.4" fill="url(#sx2)" stroke="url(#sx2)" stroke-width="0.7"/>
<polygon points="920.5,538.3 913.9,535.3 913.9,555.8 920.5,558.8" fill="url(#sx2)" stroke="url(#sx2)" stroke-width="0.7"/>
<polygon points="683.6,533.9 691.3,531.3 691.3,551.9 683.6,554.4" fill="url(#sy2)" stroke="url(#sy2)" stroke-width="0.7"/>
<polygon points="883,545.5 913.9,535.3 913.9,555.8 883,566" fill="url(#sy2)" stroke="url(#sy2)" stroke-width="0.7"/>
<polygon points="717.7,543.2 691.3,531.3 691.3,551.9 717.7,563.8" fill="url(#sx2)" stroke="url(#sx2)" stroke-width="0.7"/>
<polygon points="883,545.5 876.4,542.5 876.4,563 883,566" fill="url(#sx2)" stroke="url(#sx2)" stroke-width="0.7"/>
<polygon points="861,547.6 876.4,542.5 876.4,563 861,568.1" fill="url(#sy2)" stroke="url(#sy2)" stroke-width="0.7"/>
<polygon points="861,547.6 854.4,544.6 854.4,565.1 861,568.1" fill="url(#sx2)" stroke="url(#sx2)" stroke-width="0.7"/>
<polygon points="717.7,543.2 725.5,540.7 725.5,561.2 717.7,563.8" fill="url(#sy2)" stroke="url(#sy2)" stroke-width="0.7"/>
<polygon points="838.9,549.7 854.4,544.6 854.4,565.1 838.9,570.2" fill="url(#sy2)" stroke="url(#sy2)" stroke-width="0.7"/>
<polygon points="745.2,549.6 725.5,540.7 725.5,561.2 745.2,570.2" fill="url(#sx2)" stroke="url(#sx2)" stroke-width="0.7"/>
<polygon points="838.9,549.7 832.3,546.7 832.3,567.3 838.9,570.2" fill="url(#sx2)" stroke="url(#sx2)" stroke-width="0.7"/>
<polygon points="816.9,551.8 832.3,546.7 832.3,567.3 816.9,572.3" fill="url(#sy2)" stroke="url(#sy2)" stroke-width="0.7"/>
<polygon points="759.6,550.1 753,547.1 753,567.6 759.6,570.6" fill="url(#sx2)" stroke="url(#sx2)" stroke-width="0.7"/>
<polygon points="802.5,551.4 795.9,548.4 795.9,568.9 802.5,571.9" fill="url(#sx2)" stroke="url(#sx2)" stroke-width="0.7"/>
<polygon points="816.9,551.8 810.3,548.8 810.3,569.4 816.9,572.3" fill="url(#sx2)" stroke="url(#sx2)" stroke-width="0.7"/>
<polygon points="802.5,551.4 810.3,548.8 810.3,569.4 802.5,571.9" fill="url(#sy2)" stroke="url(#sy2)" stroke-width="0.7"/>
<polygon points="759.6,550.1 767.3,547.5 767.3,568.1 759.6,570.6" fill="url(#sy2)" stroke="url(#sy2)" stroke-width="0.7"/>
<polygon points="745.2,549.6 753,547.1 753,567.6 745.2,570.2" fill="url(#sy2)" stroke="url(#sy2)" stroke-width="0.7"/>
<polygon points="780.5,553.5 767.3,547.5 767.3,568.1 780.5,574" fill="url(#sx2)" stroke="url(#sx2)" stroke-width="0.7"/>
<polygon points="780.5,553.5 795.9,548.4 795.9,568.9 780.5,574" fill="url(#sy2)" stroke="url(#sy2)" stroke-width="0.7"/>
<path d="M595.6,506.2 L603.3,503.7 L576.9,491.8 L569.2,494.3ZM443.9,437.7 L451.6,435.2 L405.4,414.4 L413.1,411.8 L406.5,408.8 L414.3,406.3 L407.7,403.3 L484.9,377.9 L491.5,380.8 L530.2,368.1 L536.7,371.1 L559.9,363.5 L566.5,366.4 L589.7,358.8 L596.3,361.8 L619.5,354.2 L626.1,357.1 L641.5,352.1 L648.1,355 L663.6,349.9 L670.2,352.9 L677.9,350.4 L684.5,353.4 L699.9,348.3 L706.5,351.2 L722,346.2 L728.6,349.1 L736.3,346.6 L742.9,349.6 L750.6,347 L757.2,350 L765,347.5 L771.6,350.4 L787,345.3 L793.6,348.3 L801.3,345.8 L807.9,348.8 L815.7,346.2 L822.2,349.2 L830,346.6 L836.6,349.6 L844.3,347.1 L857.5,353 L865.2,350.5 L871.8,353.5 L879.5,350.9 L886.1,353.9 L893.9,351.4 L900.5,354.3 L908.2,351.8 L921.4,357.7 L929.1,355.2 L942.3,361.2 L950,358.6 L956.6,361.6 L964.3,359 L977.5,365 L985.3,362.5 L998.5,368.4 L1006.2,365.9 L1026,374.8 L1033.7,372.3 L1053.5,381.2 L1061.2,378.6 L1081,387.6 L1088.7,385 L1121.7,399.9 L1129.4,397.4 L1089.9,379.5 L1082.1,382 L1055.8,370.1 L1048,372.7 L1034.8,366.7 L1027.1,369.3 L1007.3,360.3 L999.6,362.9 L986.4,356.9 L978.7,359.5 L965.5,353.5 L957.8,356.1 L951.2,353.1 L943.4,355.6 L930.2,349.7 L922.5,352.2 L909.3,346.3 L901.6,348.8 L895,345.8 L887.3,348.4 L880.7,345.4 L872.9,347.9 L866.3,345 L858.6,347.5 L845.4,341.6 L837.7,344.1 L831.1,341.1 L823.4,343.7 L816.8,340.7 L809.1,343.2 L802.5,340.3 L794.7,342.8 L788.1,339.8 L772.7,344.9 L766.1,341.9 L758.4,344.5 L751.8,341.5 L744,344 L737.4,341.1 L729.7,343.6 L723.1,340.6 L707.7,345.7 L701.1,342.7 L685.6,347.8 L679,344.9 L671.3,347.4 L664.7,344.4 L649.2,349.5 L642.7,346.5 L627.2,351.6 L620.6,348.6 L597.4,356.3 L590.8,353.3 L575.4,358.4 L568.8,355.4 L537.9,365.6 L531.3,362.6 L500.4,372.8 L493.8,369.8 L401.1,400.3 L407.7,403.3 L399.9,405.9 L406.5,408.8 L398.8,411.4 L405.4,414.4 L397.7,416.9ZM636.3,518.6 L644,516 L630.8,510.1 L623.1,512.6ZM683.6,533.9 L691.3,531.3 L671.5,522.4 L663.8,524.9ZM717.7,543.2 L725.5,540.7 L712.3,534.7 L704.5,537.3ZM745.2,549.6 L753,547.1 L759.6,550.1 L767.3,547.5 L780.5,553.5 L795.9,548.4 L802.5,551.4 L810.3,548.8 L816.9,551.8 L832.3,546.7 L838.9,549.7 L854.4,544.6 L861,547.6 L876.4,542.5 L883,545.5 L906.2,537.8 L899.6,534.9 L876.4,542.5 L869.8,539.5 L854.4,544.6 L847.8,541.6 L840,544.2 L833.4,541.2 L818,546.3 L811.4,543.3 L795.9,548.4 L789.3,545.4 L781.6,548 L775,545 L767.3,547.5 L760.7,544.5 L753,547.1 L739.8,541.1 L732,543.7ZM913.9,535.3 L920.5,538.3 L1113.6,474.7 L1107,471.7ZM1171.1,440.3 L1177.7,443.3 L1193.2,438.2 L1186.6,435.2 L1194.3,432.7 L1187.7,429.7 L1195.4,427.1 L1182.2,421.2 L1174.5,423.7 L1181.1,426.7 L1173.4,429.3 L1180,432.2 L1172.2,434.8 L1178.8,437.8Z" fill="url(#tg2)" stroke="url(#tg2)" stroke-width="0.7"/>
<polygon points="1174.5,403.2 1182.2,400.6 1182.2,421.2 1174.5,423.7" fill="url(#sy1)" stroke="url(#sy1)" stroke-width="0.7"/>
<polygon points="414.3,385.7 407.7,382.8 407.7,403.3 414.3,406.3" fill="url(#sx1)" stroke="url(#sx1)" stroke-width="0.7"/>
<polygon points="1173.4,408.7 1181.1,406.2 1181.1,426.7 1173.4,429.3" fill="url(#sy1)" stroke="url(#sy1)" stroke-width="0.7"/>
<polygon points="413.1,391.3 406.5,388.3 406.5,408.8 413.1,411.8" fill="url(#sx1)" stroke="url(#sx1)" stroke-width="0.7"/>
<polygon points="1172.2,414.2 1180,411.7 1180,432.2 1172.2,434.8" fill="url(#sy1)" stroke="url(#sy1)" stroke-width="0.7"/>
<polygon points="1171.1,419.7 1178.8,417.2 1178.8,437.8 1171.1,440.3" fill="url(#sy1)" stroke="url(#sy1)" stroke-width="0.7"/>
<polygon points="1170,425.3 1177.7,422.7 1177.7,443.3 1170,445.8" fill="url(#sy1)" stroke="url(#sy1)" stroke-width="0.7"/>
<polygon points="451.6,414.6 405.4,393.8 405.4,414.4 451.6,435.2" fill="url(#sx1)" stroke="url(#sx1)" stroke-width="0.7"/>
<polygon points="569.2,473.8 443.9,417.2 443.9,437.7 569.2,494.3" fill="url(#sx1)" stroke="url(#sx1)" stroke-width="0.7"/>
<polygon points="906.2,517.3 1176.6,428.2 1176.6,448.8 906.2,537.8" fill="url(#sy1)" stroke="url(#sy1)" stroke-width="0.7"/>
<polygon points="569.2,473.8 576.9,471.2 576.9,491.8 569.2,494.3" fill="url(#sy1)" stroke="url(#sy1)" stroke-width="0.7"/>
<polygon points="623.1,492.1 576.9,471.2 576.9,491.8 623.1,512.6" fill="url(#sx1)" stroke="url(#sx1)" stroke-width="0.7"/>
<polygon points="623.1,492.1 630.8,489.5 630.8,510.1 623.1,512.6" fill="url(#sy1)" stroke="url(#sy1)" stroke-width="0.7"/>
<polygon points="663.8,504.4 630.8,489.5 630.8,510.1 663.8,524.9" fill="url(#sx1)" stroke="url(#sx1)" stroke-width="0.7"/>
<polygon points="663.8,504.4 671.5,501.9 671.5,522.4 663.8,524.9" fill="url(#sy1)" stroke="url(#sy1)" stroke-width="0.7"/>
<polygon points="704.5,516.7 671.5,501.9 671.5,522.4 704.5,537.3" fill="url(#sx1)" stroke="url(#sx1)" stroke-width="0.7"/>
<polygon points="906.2,517.3 899.6,514.3 899.6,534.9 906.2,537.8" fill="url(#sx1)" stroke="url(#sx1)" stroke-width="0.7"/>
<polygon points="876.4,521.9 899.6,514.3 899.6,534.9 876.4,542.5" fill="url(#sy1)" stroke="url(#sy1)" stroke-width="0.7"/>
<polygon points="876.4,521.9 869.8,519 869.8,539.5 876.4,542.5" fill="url(#sx1)" stroke="url(#sx1)" stroke-width="0.7"/>
<polygon points="704.5,516.7 712.3,514.2 712.3,534.7 704.5,537.3" fill="url(#sy1)" stroke="url(#sy1)" stroke-width="0.7"/>
<polygon points="854.4,524 869.8,519 869.8,539.5 854.4,544.6" fill="url(#sy1)" stroke="url(#sy1)" stroke-width="0.7"/>
<polygon points="732,523.1 712.3,514.2 712.3,534.7 732,543.7" fill="url(#sx1)" stroke="url(#sx1)" stroke-width="0.7"/>
<polygon points="840,523.6 833.4,520.6 833.4,541.2 840,544.2" fill="url(#sx1)" stroke="url(#sx1)" stroke-width="0.7"/>
<polygon points="854.4,524 847.8,521.1 847.8,541.6 854.4,544.6" fill="url(#sx1)" stroke="url(#sx1)" stroke-width="0.7"/>
<polygon points="840,523.6 847.8,521.1 847.8,541.6 840,544.2" fill="url(#sy1)" stroke="url(#sy1)" stroke-width="0.7"/>
<polygon points="818,525.7 833.4,520.6 833.4,541.2 818,546.3" fill="url(#sy1)" stroke="url(#sy1)" stroke-width="0.7"/>
<polygon points="818,525.7 811.4,522.7 811.4,543.3 818,546.3" fill="url(#sx1)" stroke="url(#sx1)" stroke-width="0.7"/>
<polygon points="732,523.1 739.8,520.6 739.8,541.1 732,543.7" fill="url(#sy1)" stroke="url(#sy1)" stroke-width="0.7"/>
<polygon points="753,526.5 739.8,520.6 739.8,541.1 753,547.1" fill="url(#sx1)" stroke="url(#sx1)" stroke-width="0.7"/>
<polygon points="795.9,527.8 811.4,522.7 811.4,543.3 795.9,548.4" fill="url(#sy1)" stroke="url(#sy1)" stroke-width="0.7"/>
<polygon points="767.3,527 760.7,524 760.7,544.5 767.3,547.5" fill="url(#sx1)" stroke="url(#sx1)" stroke-width="0.7"/>
<polygon points="781.6,527.4 775,524.4 775,545 781.6,548" fill="url(#sx1)" stroke="url(#sx1)" stroke-width="0.7"/>
<polygon points="795.9,527.8 789.3,524.9 789.3,545.4 795.9,548.4" fill="url(#sx1)" stroke="url(#sx1)" stroke-width="0.7"/>
<polygon points="781.6,527.4 789.3,524.9 789.3,545.4 781.6,548" fill="url(#sy1)" stroke="url(#sy1)" stroke-width="0.7"/>
<polygon points="767.3,527 775,524.4 775,545 767.3,547.5" fill="url(#sy1)" stroke="url(#sy1)" stroke-width="0.7"/>
<polygon points="753,526.5 760.7,524 760.7,544.5 753,547.1" fill="url(#sy1)" stroke="url(#sy1)" stroke-width="0.7"/>
<path d="M503.2,444 L511,441.4 L451.6,414.6 L459.3,412.1 L419.7,394.2 L427.5,391.7 L420.9,388.7 L428.6,386.2 L422,383.2 L491.5,360.3 L484.9,357.3 L407.7,382.8 L414.3,385.7 L406.5,388.3 L413.1,391.3 L405.4,393.8 L451.6,414.6 L443.9,417.2ZM746.4,523.6 L753,526.5 L760.7,524 L754.1,521ZM775,524.4 L781.6,527.4 L789.3,524.9 L795.9,527.8 L811.4,522.7 L818,525.7 L825.7,523.2 L819.1,520.2 L811.4,522.7 L804.8,519.8 L789.3,524.9 L782.7,521.9ZM833.4,520.6 L840,523.6 L847.8,521.1 L854.4,524 L869.8,519 L876.4,521.9 L899.6,514.3 L906.2,517.3 L1176.6,428.2 L1170,425.3 L1177.7,422.7 L1171.1,419.7 L1178.8,417.2 L1172.2,414.2 L1180,411.7 L1173.4,408.7 L1181.1,406.2 L1174.5,403.2 L1182.2,400.6 L1129.4,376.8 L1121.7,379.4 L1174.5,403.2 L1166.8,405.7 L1173.4,408.7 L1165.6,411.2 L1172.2,414.2 L1164.5,416.8 L1171.1,419.7 L1163.4,422.3 L1170,425.3 L907.3,511.8 L900.7,508.8 L869.8,519 L863.2,516 L847.8,521.1 L841.2,518.1ZM499.2,357.8 L505.8,360.7 L536.7,350.6 L530.2,347.6ZM544.5,348 L551.1,351 L566.5,345.9 L559.9,342.9ZM574.2,343.4 L580.8,346.3 L596.3,341.2 L589.7,338.3ZM604,338.7 L610.6,341.7 L626.1,336.6 L632.7,339.6 L648.1,334.5 L654.7,337.5 L670.2,332.4 L676.8,335.3 L684.5,332.8 L677.9,329.8 L670.2,332.4 L663.6,329.4 L648.1,334.5 L641.5,331.5 L626.1,336.6 L619.5,333.6ZM692.2,330.3 L698.8,333.2 L706.5,330.7 L713.1,333.7 L728.6,328.6 L735.2,331.6 L742.9,329 L749.5,332 L757.2,329.4 L763.8,332.4 L771.6,329.9 L778.2,332.9 L793.6,327.8 L800.2,330.7 L807.9,328.2 L814.5,331.2 L822.2,328.6 L828.8,331.6 L836.6,329.1 L849.8,335 L857.5,332.5 L864.1,335.5 L871.8,332.9 L878.4,335.9 L886.1,333.3 L892.7,336.3 L900.5,333.8 L913.7,339.7 L921.4,337.2 L928,340.2 L935.7,337.6 L929.1,334.6 L921.4,337.2 L908.2,331.2 L900.5,333.8 L893.9,330.8 L886.1,333.3 L879.5,330.4 L871.8,332.9 L865.2,329.9 L857.5,332.5 L844.3,326.5 L836.6,329.1 L830,326.1 L822.2,328.6 L815.7,325.7 L807.9,328.2 L801.3,325.2 L793.6,327.8 L787,324.8 L771.6,329.9 L765,326.9 L757.2,329.4 L750.6,326.5 L742.9,329 L736.3,326 L728.6,328.6 L722,325.6 L706.5,330.7 L699.9,327.7ZM942.3,340.6 L948.9,343.6 L956.6,341 L969.8,347 L977.5,344.4 L990.7,350.4 L998.5,347.9 L1011.7,353.8 L1019.4,351.3 L1006.2,345.3 L998.5,347.9 L985.3,341.9 L977.5,344.4 L964.3,338.5 L956.6,341 L950,338.1ZM1039.2,360.2 L1046.9,357.7 L1033.7,351.7 L1026,354.2ZM1066.7,366.6 L1074.4,364 L1061.2,358.1 L1053.5,360.6ZM1107.4,378.9 L1115.1,376.4 L1088.7,364.5 L1081,367Z" fill="url(#tg1)" stroke="url(#tg1)" stroke-width="0.7"/>
<polygon points="1166.8,385.2 1174.5,382.6 1174.5,403.2 1166.8,405.7" fill="url(#sy0)" stroke="url(#sy0)" stroke-width="0.7"/>
<polygon points="428.6,365.6 422,362.6 422,383.2 428.6,386.2" fill="url(#sx0)" stroke="url(#sx0)" stroke-width="0.7"/>
<polygon points="1165.6,390.7 1173.4,388.2 1173.4,408.7 1165.6,411.2" fill="url(#sy0)" stroke="url(#sy0)" stroke-width="0.7"/>
<polygon points="427.5,371.1 420.9,368.2 420.9,388.7 427.5,391.7" fill="url(#sx0)" stroke="url(#sx0)" stroke-width="0.7"/>
<polygon points="1164.5,396.2 1172.2,393.7 1172.2,414.2 1164.5,416.8" fill="url(#sy0)" stroke="url(#sy0)" stroke-width="0.7"/>
<polygon points="1163.4,401.7 1171.1,399.2 1171.1,419.7 1163.4,422.3" fill="url(#sy0)" stroke="url(#sy0)" stroke-width="0.7"/>
<polygon points="459.3,391.6 419.7,373.7 419.7,394.2 459.3,412.1" fill="url(#sx0)" stroke="url(#sx0)" stroke-width="0.7"/>
<polygon points="511,420.9 451.6,394.1 451.6,414.6 511,441.4" fill="url(#sx0)" stroke="url(#sx0)" stroke-width="0.7"/>
<polygon points="907.3,491.2 1170,404.7 1170,425.3 907.3,511.8" fill="url(#sy0)" stroke="url(#sy0)" stroke-width="0.7"/>
<polygon points="602.2,468.1 503.2,423.4 503.2,444 602.2,488.6" fill="url(#sx0)" stroke="url(#sx0)" stroke-width="0.7"/>
<polygon points="602.2,468.1 609.9,465.5 609.9,486.1 602.2,488.6" fill="url(#sy0)" stroke="url(#sy0)" stroke-width="0.7"/>
<polygon points="642.9,480.4 609.9,465.5 609.9,486.1 642.9,501" fill="url(#sx0)" stroke="url(#sx0)" stroke-width="0.7"/>
<polygon points="642.9,480.4 650.6,477.9 650.6,498.4 642.9,501" fill="url(#sy0)" stroke="url(#sy0)" stroke-width="0.7"/>
<polygon points="907.3,491.2 900.7,488.2 900.7,508.8 907.3,511.8" fill="url(#sx0)" stroke="url(#sx0)" stroke-width="0.7"/>
<polygon points="690.2,495.8 650.6,477.9 650.6,498.4 690.2,516.3" fill="url(#sx0)" stroke="url(#sx0)" stroke-width="0.7"/>
<polygon points="869.8,498.4 900.7,488.2 900.7,508.8 869.8,519" fill="url(#sy0)" stroke="url(#sy0)" stroke-width="0.7"/>
<polygon points="869.8,498.4 863.2,495.4 863.2,516 869.8,519" fill="url(#sx0)" stroke="url(#sx0)" stroke-width="0.7"/>
<polygon points="847.8,500.5 863.2,495.4 863.2,516 847.8,521.1" fill="url(#sy0)" stroke="url(#sy0)" stroke-width="0.7"/>
<polygon points="847.8,500.5 841.2,497.5 841.2,518.1 847.8,521.1" fill="url(#sx0)" stroke="url(#sx0)" stroke-width="0.7"/>
<polygon points="690.2,495.8 697.9,493.2 697.9,513.8 690.2,516.3" fill="url(#sy0)" stroke="url(#sy0)" stroke-width="0.7"/>
<polygon points="711.1,499.2 697.9,493.2 697.9,513.8 711.1,519.7" fill="url(#sx0)" stroke="url(#sx0)" stroke-width="0.7"/>
<polygon points="825.7,502.6 841.2,497.5 841.2,518.1 825.7,523.2" fill="url(#sy0)" stroke="url(#sy0)" stroke-width="0.7"/>
<polygon points="811.4,502.2 804.8,499.2 804.8,519.8 811.4,522.7" fill="url(#sx0)" stroke="url(#sx0)" stroke-width="0.7"/>
<polygon points="825.7,502.6 819.1,499.7 819.1,520.2 825.7,523.2" fill="url(#sx0)" stroke="url(#sx0)" stroke-width="0.7"/>
<polygon points="811.4,502.2 819.1,499.7 819.1,520.2 811.4,522.7" fill="url(#sy0)" stroke="url(#sy0)" stroke-width="0.7"/>
<polygon points="711.1,499.2 718.9,496.6 718.9,517.2 711.1,519.7" fill="url(#sy0)" stroke="url(#sy0)" stroke-width="0.7"/>
<polygon points="732,502.6 718.9,496.6 718.9,517.2 732,523.1" fill="url(#sx0)" stroke="url(#sx0)" stroke-width="0.7"/>
<polygon points="789.3,504.3 804.8,499.2 804.8,519.8 789.3,524.9" fill="url(#sy0)" stroke="url(#sy0)" stroke-width="0.7"/>
<polygon points="746.4,503 739.8,500 739.8,520.6 746.4,523.6" fill="url(#sx0)" stroke="url(#sx0)" stroke-width="0.7"/>
<polygon points="789.3,504.3 782.7,501.3 782.7,521.9 789.3,524.9" fill="url(#sx0)" stroke="url(#sx0)" stroke-width="0.7"/>
<polygon points="746.4,503 754.1,500.5 754.1,521 746.4,523.6" fill="url(#sy0)" stroke="url(#sy0)" stroke-width="0.7"/>
<polygon points="732,502.6 739.8,500 739.8,520.6 732,523.1" fill="url(#sy0)" stroke="url(#sy0)" stroke-width="0.7"/>
<polygon points="767.3,506.4 754.1,500.5 754.1,521 767.3,527" fill="url(#sx0)" stroke="url(#sx0)" stroke-width="0.7"/>
<polygon points="767.3,506.4 782.7,501.3 782.7,521.9 767.3,527" fill="url(#sy0)" stroke="url(#sy0)" stroke-width="0.7"/>
<path d="M602.2,468.1 L609.9,465.5 L642.9,480.4 L650.6,477.9 L690.2,495.8 L697.9,493.2 L711.1,499.2 L718.9,496.6 L732,502.6 L739.8,500 L746.4,503 L754.1,500.5 L767.3,506.4 L782.7,501.3 L789.3,504.3 L804.8,499.2 L811.4,502.2 L819.1,499.7 L825.7,502.6 L841.2,497.5 L847.8,500.5 L863.2,495.4 L869.8,498.4 L900.7,488.2 L907.3,491.2 L1170,404.7 L1163.4,401.7 L1171.1,399.2 L1164.5,396.2 L1172.2,393.7 L1165.6,390.7 L1173.4,388.2 L1166.8,385.2 L1174.5,382.6 L1115.1,355.8 L1107.4,358.4 L1074.4,343.5 L1066.7,346 L1046.9,337.1 L1039.2,339.7 L1019.4,330.7 L1011.7,333.3 L998.5,327.3 L990.7,329.9 L977.5,323.9 L969.8,326.4 L956.6,320.5 L948.9,323 L935.7,317.1 L928,319.6 L921.4,316.6 L913.7,319.2 L900.5,313.2 L892.7,315.8 L886.1,312.8 L878.4,315.3 L871.8,312.4 L864.1,314.9 L857.5,311.9 L849.8,314.5 L836.6,308.5 L828.8,311.1 L822.2,308.1 L814.5,310.6 L807.9,307.7 L800.2,310.2 L793.6,307.2 L778.2,312.3 L771.6,309.3 L763.8,311.9 L757.2,308.9 L749.5,311.4 L742.9,308.5 L735.2,311 L728.6,308 L713.1,313.1 L706.5,310.1 L698.8,312.7 L692.2,309.7 L676.8,314.8 L670.2,311.8 L654.7,316.9 L648.1,313.9 L632.7,319 L626.1,316 L610.6,321.1 L604,318.2 L580.8,325.8 L574.2,322.8 L551.1,330.4 L544.5,327.5 L505.8,340.2 L499.2,337.2 L422,362.6 L428.6,365.6 L420.9,368.2 L427.5,371.1 L419.7,373.7 L459.3,391.6 L451.6,394.1 L511,420.9 L503.2,423.4Z" fill="url(#tg0)" stroke="url(#tg0)" stroke-width="0.7"/></g>
<line x1="327.2" y1="316.7" x2="321.7" y2="318.6" stroke="#000" stroke-width="1"/>
<text x="312.6" y="321.7" font-size="13.9" text-anchor="end" dominant-baseline="central">3990</text>
<line x1="327.2" y1="368.1" x2="321.7" y2="369.9" stroke="#000" stroke-width="1"/>
<text x="312.6" y="373.1" font-size="13.9" text-anchor="end" dominant-baseline="central">4000</text>
<line x1="327.2" y1="419.5" x2="321.7" y2="421.3" stroke="#000" stroke-width="1"/>
<text x="312.6" y="424.5" font-size="13.9" text-anchor="end" dominant-baseline="central">4010</text>
<line x1="327.2" y1="470.9" x2="321.7" y2="472.7" stroke="#000" stroke-width="1"/>
<text x="312.6" y="475.9" font-size="13.9" text-anchor="end" dominant-baseline="central">4020</text>
<line x1="742.8" y1="708.9" x2="737.3" y2="710.7" stroke="#000" stroke-width="1"/>
<text x="732.3" y="720.9" font-size="14.5" text-anchor="end" dominant-baseline="central">0</text>
<line x1="577.9" y1="634.4" x2="572.4" y2="636.3" stroke="#000" stroke-width="1"/>
<text x="567.4" y="646.4" font-size="14.5" text-anchor="end" dominant-baseline="central">200</text>
<line x1="413" y1="560" x2="407.5" y2="561.8" stroke="#000" stroke-width="1"/>
<text x="402.5" y="572" font-size="14.5" text-anchor="end" dominant-baseline="central">400</text>
<line x1="785.8" y1="710.2" x2="791.1" y2="712.6" stroke="#000" stroke-width="1"/>
<text x="795.8" y="723.2" font-size="14.5" text-anchor="start" dominant-baseline="central">0</text>
<line x1="978.9" y1="646.6" x2="984.2" y2="649" stroke="#000" stroke-width="1"/>
<text x="988.9" y="659.6" font-size="14.5" text-anchor="start" dominant-baseline="central">200</text>
<line x1="1172.1" y1="583" x2="1177.4" y2="585.4" stroke="#000" stroke-width="1"/>
<text x="1182.1" y="596" font-size="14.5" text-anchor="start" dominant-baseline="central">400</text>
<text x="1034" y="680" font-size="14.5" text-anchor="middle" dominant-baseline="central" transform="rotate(-18.2 1034 680)">x</text>
<text x="525" y="664" font-size="14.5" text-anchor="middle" dominant-baseline="central" transform="rotate(24.3 525 664)">y</text>
<text x="270.2" y="418.6" font-size="14.5" text-anchor="middle" dominant-baseline="central" transform="rotate(-90 270.2 418.6)">z</text>
<text x="800" y="140.3" font-size="14.2" font-weight="bold" text-anchor="middle">Step 1/150</text>
<ellipse cx="584.9" cy="378" rx="16" ry="6.5" fill="url(#spotP)"/>
<line x1="584.9" y1="337.7" x2="584.9" y2="378" stroke="#850b1a" stroke-width="3.4"/>
<text x="584.6" y="341.7" font-size="17.6" text-anchor="middle" fill="#8e1424" filter="url(#glow)">Producer</text>
<ellipse cx="1014.4" cy="390.4" rx="16" ry="6.5" fill="url(#spotI)"/>
<line x1="1014.4" y1="343.5" x2="1014.4" y2="390.4" stroke="#850b1a" stroke-width="3.4"/>
<text x="1015" y="347.5" font-size="17.6" text-anchor="middle" fill="#8e1424" filter="url(#glow)">Injector</text>
<defs><linearGradient id="vir" x1="0" x2="1" y1="0" y2="0"><stop offset="0%" stop-color="#440154"/><stop offset="3.1%" stop-color="#470d60"/><stop offset="6.2%" stop-color="#48186a"/><stop offset="9.4%" stop-color="#482374"/><stop offset="12.5%" stop-color="#472d7b"/><stop offset="15.6%" stop-color="#453781"/><stop offset="18.8%" stop-color="#424086"/><stop offset="21.9%" stop-color="#3e4989"/><stop offset="25%" stop-color="#3b528b"/><stop offset="28.1%" stop-color="#375b8d"/><stop offset="31.2%" stop-color="#33638d"/><stop offset="34.4%" stop-color="#2f6b8e"/><stop offset="37.5%" stop-color="#2c728e"/><stop offset="40.6%" stop-color="#297a8e"/><stop offset="43.8%" stop-color="#26828e"/><stop offset="46.9%" stop-color="#23898e"/><stop offset="50%" stop-color="#21918c"/><stop offset="53.1%" stop-color="#1f988b"/><stop offset="56.2%" stop-color="#1fa088"/><stop offset="59.4%" stop-color="#22a785"/><stop offset="62.5%" stop-color="#28ae80"/><stop offset="65.6%" stop-color="#32b67a"/><stop offset="68.8%" stop-color="#3fbc73"/><stop offset="71.9%" stop-color="#4ec36b"/><stop offset="75%" stop-color="#5ec962"/><stop offset="78.1%" stop-color="#70cf57"/><stop offset="81.2%" stop-color="#84d44b"/><stop offset="84.4%" stop-color="#98d83e"/><stop offset="87.5%" stop-color="#addc30"/><stop offset="90.6%" stop-color="#c2df23"/><stop offset="93.8%" stop-color="#d8e219"/><stop offset="96.9%" stop-color="#ece51b"/><stop offset="100%" stop-color="#fde725"/></linearGradient></defs>
<rect x="45.5" y="790.5" width="1496.5" height="12.5" fill="url(#vir)" stroke="#222" stroke-width="1"/>
<polygon points="1542,790.5 1552.5,796.8 1542,803" fill="#fff" stroke="#222" stroke-width="1"/>
<line x1="279.4" y1="785" x2="279.4" y2="790.5" stroke="#222" stroke-width="1"/>
<text x="279.4" y="778.7" font-size="14.2" text-anchor="middle">2.60×10<tspan font-size="9.5" dy="-5.5">6</tspan></text>
<line x1="678.7" y1="785" x2="678.7" y2="790.5" stroke="#222" stroke-width="1"/>
<text x="678.7" y="778.7" font-size="14.2" text-anchor="middle">2.70×10<tspan font-size="9.5" dy="-5.5">6</tspan></text>
<line x1="1078" y1="785" x2="1078" y2="790.5" stroke="#222" stroke-width="1"/>
<text x="1078" y="778.7" font-size="14.2" text-anchor="middle">2.80×10<tspan font-size="9.5" dy="-5.5">6</tspan></text>
<line x1="1477.2" y1="785" x2="1477.2" y2="790.5" stroke="#222" stroke-width="1"/>
<text x="1477.2" y="778.7" font-size="14.2" text-anchor="middle">2.90×10<tspan font-size="9.5" dy="-5.5">6</tspan></text>
<rect x="46" y="821" width="1508" height="10" rx="5" fill="#aec0e6"/>
<circle cx="51" cy="826" r="5.3" fill="#4f7ad6"/>
<circle cx="1548.8" cy="826" r="5.3" fill="#4f7ad6"/>
<rect x="272" y="861.5" width="964" height="10" rx="5" fill="#f0f0f0"/>
<circle cx="276.9" cy="866.3" r="5.1" fill="#4f7ad6"/>
<rect x="46" y="849" width="27" height="35" rx="4" fill="#f0f0f0"/>
<rect x="91" y="851" width="27" height="32" rx="4" fill="#f0f0f0"/>
<rect x="136" y="849" width="28" height="35" rx="4" fill="#f0f0f0"/>
<rect x="182" y="851" width="27" height="32" rx="4" fill="#f0f0f0"/>
<rect x="227" y="849" width="27" height="35" rx="4" fill="#f0f0f0"/>
<path d="M59.7,864.2 L54.8,868.2 L59.7,872.2 Z M64.6,864.2 L59.7,868.2 L64.6,872.2 Z" fill="#000"/>
<path d="M110.1,863 L99.1,867.9 L110.1,872.8 Z" fill="#000"/>
<path d="M143.9,864 L150,868 L143.9,872 Z M151.3,864 h1.9 v8 h-1.9 z M154.3,864 h1.9 v8 h-1.9 z" fill="#000"/>
<path d="M189.4,863 L200.4,867.9 L189.4,872.8 Z" fill="#000"/>
<path d="M235.3,864.2 L240.2,868.2 L235.3,872.2 Z M240.2,864.2 L245.1,868.2 L240.2,872.2 Z" fill="#000"/>
</svg>

<!-- bottom controls -->
<div class="dd" style="left:1254px;top:850px;width:222px;height:33px"><span style="top:10px">Pressure</span><i style="top:13.8px"></i></div>
<div class="dd" style="left:1494px;top:850px;width:60px;height:33px"><span style="top:10px">1</span><i style="top:13.8px"></i></div>
</body></html>
